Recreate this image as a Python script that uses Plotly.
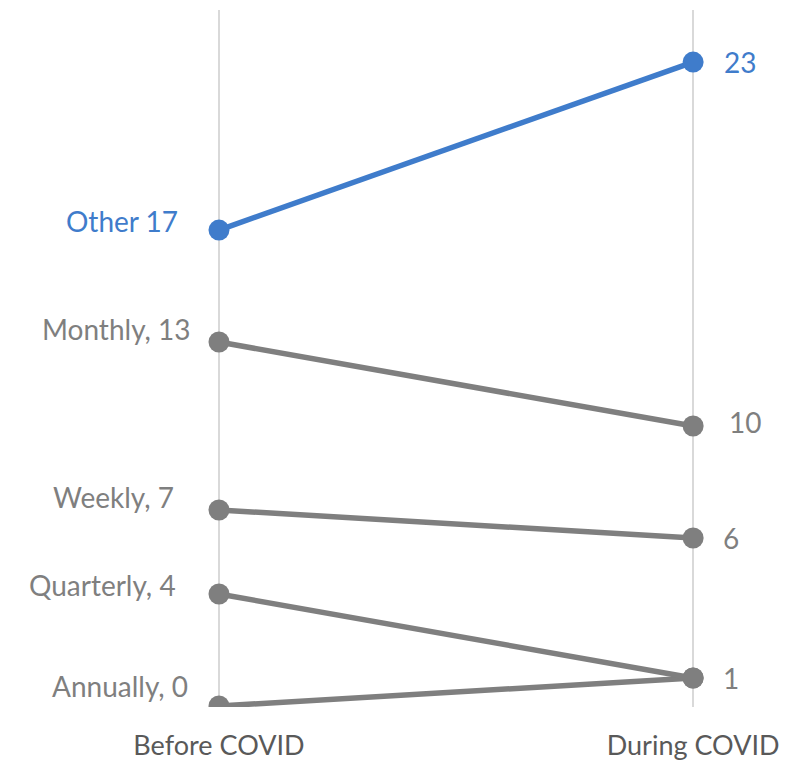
import plotly.graph_objects as go

categories = ["Before COVID", "During COVID"]
series_names = ["Annually", "Quarterly", "Weekly", "Monthly", "Other"]
before_values = [0, 4, 7, 13, 17]
during_values = [1, 1, 6, 10, 23]
left_labels = ["Annually, 0", "Quarterly, 4", "Weekly, 7", "Monthly, 13", "Other 17"]
right_labels = ["", "1", "6", "10", "23"]

GRAY = "#7F7F7F"
BLUE = "#3F7CCB"
colors = [GRAY, GRAY, GRAY, GRAY, BLUE]
left_xshift = [-29, -41, -43, -26, -39]
left_yshift = [20, 9, 13, 13, 9]
right_xshift = [0, 28, 28, 34, 29]
right_yshift = [0, 0, 0, 4, 0]
FONT = "Lato"

fig = go.Figure()
xs = [0, 1]
for i, name in enumerate(series_names):
    fig.add_trace(go.Scatter(
        x=xs, y=[before_values[i], during_values[i]], mode="lines+markers",
        line=dict(color=colors[i], width=5.5),
        marker=dict(size=21, color=colors[i]),
        name=name, showlegend=False, hoverinfo="skip"))
    fig.add_annotation(x=0, y=before_values[i], text=left_labels[i], showarrow=False,
                       xanchor="right", yanchor="middle", xshift=left_xshift[i], yshift=left_yshift[i],
                       font=dict(family=FONT, size=28, color=colors[i]))
    if right_labels[i]:
        fig.add_annotation(x=1, y=during_values[i], text=right_labels[i], showarrow=False,
                           xanchor="left", yanchor="middle", xshift=right_xshift[i], yshift=right_yshift[i],
                           font=dict(family=FONT, size=28, color=colors[i]))

fig.update_layout(
    width=797, height=752,
    margin=dict(l=0, r=0, t=2, b=53),
    paper_bgcolor="white", plot_bgcolor="white",
    xaxis=dict(range=[-0.445, 1.236], tickvals=xs, ticktext=categories,
               showgrid=True, gridcolor="#D9D9D9", gridwidth=1.5, zeroline=False,
               showline=False, ticks="", ticklabelstandoff=20,
               tickfont=dict(family=FONT, size=27, color="#595959")),
    yaxis=dict(range=[-0.036, 24.86], showgrid=False, zeroline=False,
               showticklabels=False, showline=False, ticks=""),
)
fig.write_html("out.html")
